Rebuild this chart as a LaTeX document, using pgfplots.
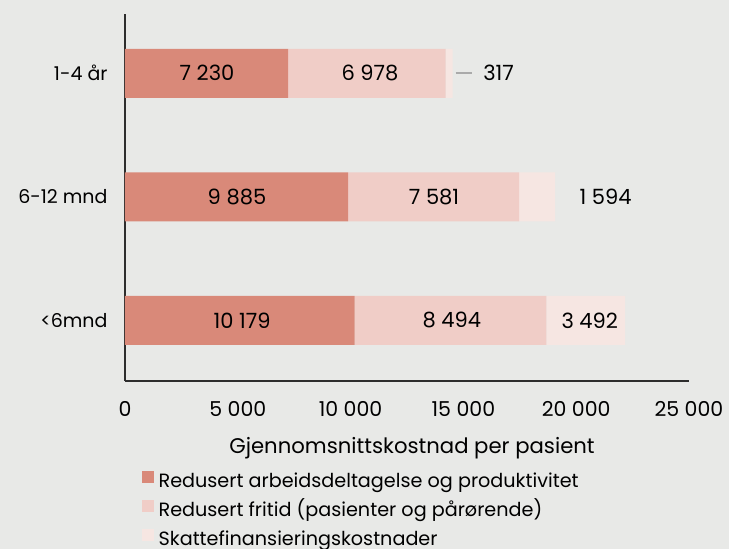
\documentclass[border=0pt]{standalone}
\usepackage{fontspec}
\setmainfont{Poppins}
\usepackage{pgfplots}
\pgfplotsset{compat=1.18}

\definecolor{bg}{RGB}{232,233,231}
\definecolor{arbeid}{RGB}{217,137,121}
\definecolor{fritid}{RGB}{240,205,199}
\definecolor{skatt}{RGB}{246,230,226}
\definecolor{axisline}{RGB}{45,45,45}
\definecolor{leader}{RGB}{170,170,170}

\begin{document}
\begin{tikzpicture}[x=1bp,y=1bp,font=\fontsize{19bp}{23bp}\selectfont]
\fill[bg] (-125,-168) rectangle (604,381);
\path[use as bounding box] (-125,-168) rectangle (604,381);
\begin{axis}[
  at={(0,0)}, anchor=south west,
  scale only axis, width=564bp, height=367bp,
  xbar stacked, bar width=49bp,
  xmin=0, xmax=25000, ymin=-0.49, ymax=2.48,
  axis lines*=left,
  axis line style={draw=axisline, line width=1.4bp},
  ytick={0,1,2}, yticklabels={<6mnd,6-12 mnd,1-4 år},
  xtick={0,5000,10000,15000,20000,25000},
  xticklabels={0,5 000,10 000,15 000,20 000,25 000},
  scaled x ticks=false,
  major tick length=0pt,
  /pgf/number format/assume math mode=true,
  xticklabel style={yshift=-16.5bp, font=\fontsize{20.5bp}{24bp}\selectfont},
  yticklabel style={xshift=-14bp},
  xlabel={Gjennomsnittskostnad per pasient},
  x label style={at={(axis description cs:0.5,0)}, anchor=center,
    yshift=-67bp, xshift=5bp, font=\fontsize{21.2bp}{25bp}\selectfont},
  legend style={at={(axis description cs:0.03,0)}, anchor=north west,
    yshift=-90bp, draw=none, fill=none, row sep=7.5bp, inner sep=0bp,
    nodes={inner sep=1.5bp, text height=14bp, text depth=4bp},
    /tikz/every odd column/.append style={column sep=3bp},
    font=\fontsize{19.2bp}{23bp}\selectfont},
  legend cell align=left,
  legend image code/.code={\fill[#1] (0bp,-1bp) rectangle (12bp,11bp);},
]
\addplot[fill=arbeid, draw=none] coordinates {(10179,0) (9885,1) (7230,2)};
\addplot[fill=fritid, draw=none] coordinates {(8494,0) (7581,1) (6978,2)};
\addplot[fill=skatt, draw=none] coordinates {(3492,0) (1594,1) (317,2)};
\legend{Redusert arbeidsdeltagelse og produktivitet,
        Redusert fritid (pasienter og pårørende),
        Skattefinansieringskostnader}

% anchor points for the value labels, centred in their segments
\coordinate (a0) at (axis cs:5190,0);
\coordinate (b0) at (axis cs:14490,0);
\coordinate (c0) at (axis cs:20600,0);
\coordinate (a1) at (axis cs:4965,1);
\coordinate (b1) at (axis cs:13700,1);
\coordinate (c1) at (axis cs:21300,1);
\coordinate (a2) at (axis cs:3635,2);
\coordinate (b2) at (axis cs:10860,2);
\coordinate (c2) at (axis cs:16560,2);
\coordinate (ls) at (axis cs:14650,2);
\coordinate (le) at (axis cs:15380,2);
\end{axis}
\begin{scope}[font=\fontsize{21bp}{25bp}\selectfont]
\node at (a0) {10 179};
\node at (b0) {8 494};
\node at (c0) {3 492};
\node at (a1) {9 885};
\node at (b1) {7 581};
\node at (c1) {1 594};
\node at (a2) {7 230};
\node at (b2) {6 978};
\node at (c2) {317};
\end{scope}
\draw[leader, line width=2.2bp] (ls) -- (le);
\end{tikzpicture}
\end{document}
